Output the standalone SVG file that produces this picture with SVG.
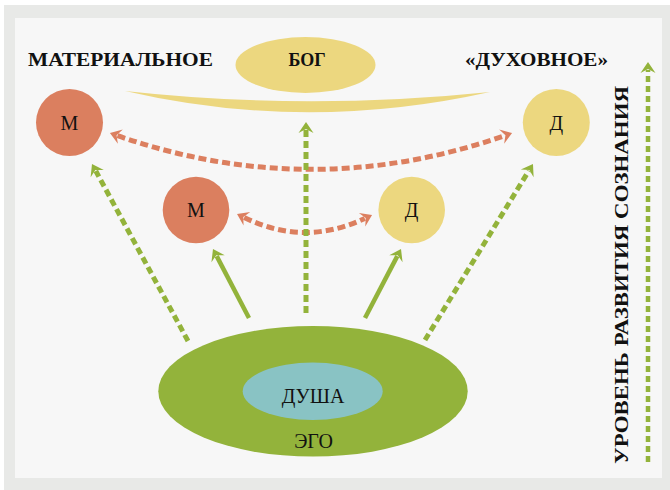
<svg xmlns="http://www.w3.org/2000/svg" width="670" height="490" viewBox="0 0 670 490">
<style>
.title{font-family:"Liberation Serif",serif;font-weight:bold;font-size:18px;fill:#111}
.lbl{font-family:"Liberation Serif",serif;font-size:20px;fill:#111;text-anchor:middle}
.or{fill:none;stroke:#dc7f5f;stroke-width:5;stroke-dasharray:8 4}
.gd{fill:none;stroke:#93b33b;stroke-width:5;stroke-dasharray:7 4}
.gs{fill:none;stroke:#93b33b;stroke-width:4.5}
</style>
<defs>
<marker id="ao" markerUnits="userSpaceOnUse" viewBox="-12 -10 16 20" refX="-6" refY="0" markerWidth="16" markerHeight="20" orient="auto-start-reverse">
<path d="M-9,-7.5 L2,0 L-9,7.5 L-5,0 Z" fill="#dc7f5f"/>
</marker>
<marker id="ag" markerUnits="userSpaceOnUse" viewBox="-12 -10 16 20" refX="-6" refY="0" markerWidth="16" markerHeight="20" orient="auto-start-reverse">
<path d="M-9,-7.5 L2,0 L-9,7.5 L-5,0 Z" fill="#93b33b"/>
</marker>
</defs>
<rect x="4" y="5" width="666" height="485" fill="#e8e9e7"/>
<rect x="15" y="18" width="647" height="460" fill="#f7f7f7"/>

<g id="labels">
<text class="title" x="28" y="66" textLength="185" lengthAdjust="spacingAndGlyphs">МАТЕРИАЛЬНОЕ</text>
<text class="title" x="465" y="66" textLength="143" lengthAdjust="spacingAndGlyphs">«ДУХОВНОЕ»</text>
<text class="title" transform="translate(628,464) rotate(-90)" x="0" y="0" textLength="378" lengthAdjust="spacingAndGlyphs">УРОВЕНЬ РАЗВИТИЯ СОЗНАНИЯ</text>
</g>

<g id="god">
<ellipse cx="305.5" cy="65" rx="70" ry="28" fill="#ecd77f"/>
<text class="title" x="307" y="66" text-anchor="middle">БОГ</text>
<path d="M125,91 Q306,133 490,92 Q306,111 125,91 Z" fill="#ecd77f"/>
</g>

<g id="m-outer">
<circle cx="69.5" cy="122.5" r="33.5" fill="#db7f5f"/>
<text class="lbl" x="69.5" y="129.5">М</text>
</g>
<g id="d-outer">
<circle cx="556.3" cy="122.5" r="33.5" fill="#ecd77f"/>
<text class="lbl" x="556.3" y="129.5">Д</text>
</g>
<g id="m-inner">
<circle cx="196" cy="210" r="33.3" fill="#db7f5f"/>
<text class="lbl" x="196" y="217">М</text>
</g>
<g id="d-inner">
<circle cx="411.7" cy="210" r="33.3" fill="#ecd77f"/>
<text class="lbl" x="411.7" y="217">Д</text>
</g>

<g id="ego">
<ellipse cx="313" cy="391.3" rx="154.7" ry="65.3" fill="#93b33b"/>
<text class="lbl" x="313.5" y="447.5">ЭГО</text>
</g>
<g id="soul">
<ellipse cx="312.7" cy="391.3" rx="70" ry="28.7" fill="#89c3c4"/>
<text class="lbl" x="313" y="403">ДУША</text>
</g>

<g id="connectors">
<path class="or" d="M117.5,135.7 Q311,203 504.5,135.7" marker-start="url(#ao)" marker-end="url(#ao)"/>
<path class="or" d="M244.2,217.5 Q304,247 364.8,218.4" marker-start="url(#ao)" marker-end="url(#ao)"/>
<path class="gd" d="M306,313 L306,130" marker-end="url(#ag)"/>
<path class="gd" d="M188,341 L95.8,171" marker-end="url(#ag)"/>
<path class="gd" d="M425,340 L528.8,170.8" marker-end="url(#ag)"/>
<path class="gs" d="M249,318 L216.7,256.1" marker-end="url(#ag)"/>
<path class="gs" d="M365,318 L397.3,256.1" marker-end="url(#ag)"/>
<path class="gd" style="stroke-width:4.5;stroke-dasharray:6 4" d="M648,462 L648,70" marker-end="url(#ag)"/>
</g>
</svg>
